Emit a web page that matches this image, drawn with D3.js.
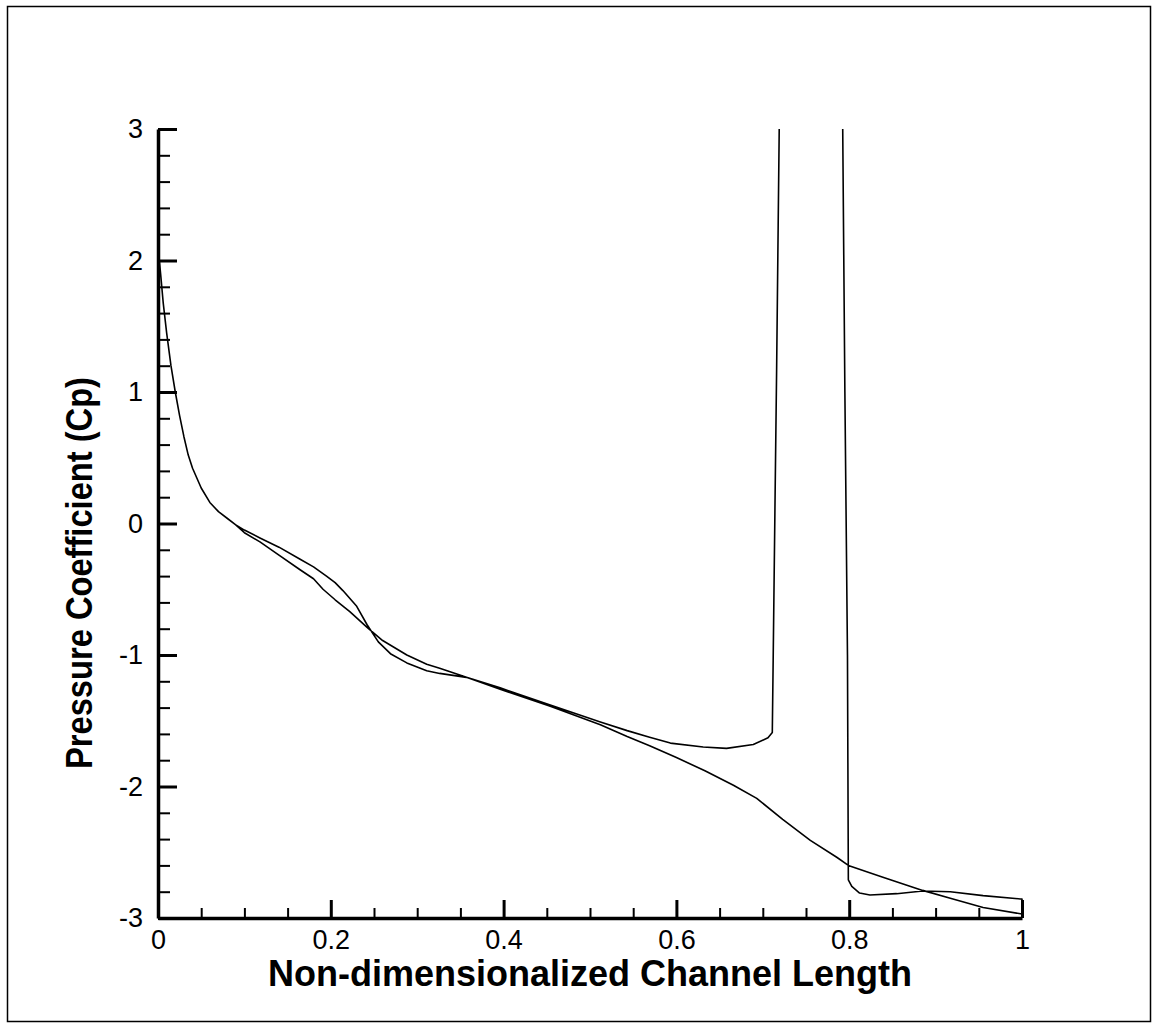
<!DOCTYPE html>
<html>
<head>
<meta charset="utf-8">
<script src="https://cdn.jsdelivr.net/npm/d3@7"></script>
<style>
  html, body { margin: 0; padding: 0; background: #fff; }
  svg { display: block; }
</style>
</head>
<body>
<svg id="chart" width="1157" height="1029"></svg>
<script>
// ---- data ----
const xTicksMajor = [0, 0.2, 0.4, 0.6, 0.8, 1];
const yTicksMajor = [-3, -2, -1, 0, 1, 2, 3];

// shared leading-edge portion (both branches start here)
const leadingEdge = [
  [0, 2.1], [0.003, 1.9], [0.006, 1.68], [0.01, 1.45], [0.015, 1.2], [0.02, 1.0],
  [0.025, 0.82], [0.03, 0.66], [0.035, 0.52], [0.04, 0.42], [0.05, 0.27],
  [0.06, 0.16], [0.07, 0.09], [0.08, 0.04], [0.09, -0.01]
];

// branch A: S-bend curve, ends with the spike at x ~ 0.72
const branchA = [
  [0.10, -0.05], [0.118, -0.11], [0.14, -0.18], [0.164, -0.27], [0.18, -0.33],
  [0.195, -0.40], [0.205, -0.45], [0.214, -0.51], [0.23, -0.63], [0.242, -0.77],
  [0.255, -0.90], [0.269, -0.99], [0.288, -1.06], [0.311, -1.12], [0.326, -1.14],
  [0.357, -1.17], [0.396, -1.25], [0.454, -1.38], [0.512, -1.51], [0.543, -1.575],
  [0.569, -1.625], [0.593, -1.67], [0.631, -1.70], [0.658, -1.71], [0.689, -1.68],
  [0.706, -1.63], [0.711, -1.59], [0.712, -1.04], [0.714, 0.08], [0.716, 1.17],
  [0.7178, 2.27], [0.719, 3.0]
];

// branch B: smooth curve running to x = 1
const branchB = [
  [0.10, -0.07], [0.118, -0.14], [0.14, -0.24], [0.164, -0.35], [0.18, -0.42],
  [0.191, -0.50], [0.205, -0.58], [0.222, -0.67], [0.242, -0.79], [0.26, -0.89],
  [0.288, -1.0], [0.311, -1.07], [0.326, -1.10], [0.357, -1.17], [0.396, -1.26],
  [0.454, -1.39], [0.512, -1.53], [0.543, -1.62], [0.569, -1.69], [0.6, -1.78],
  [0.633, -1.88], [0.666, -1.99], [0.693, -2.09], [0.723, -2.25], [0.755, -2.41],
  [0.786, -2.54], [0.799, -2.60], [0.839, -2.69], [0.885, -2.79], [0.917, -2.85],
  [0.955, -2.92], [1.0, -2.97]
];

// branch C: returns from x = 1 to the spike at x ~ 0.8
const branchC = [
  [1.0, -2.97], [1.0, -2.855], [0.998, -2.855], [0.955, -2.83], [0.917, -2.80],
  [0.885, -2.795], [0.855, -2.815], [0.824, -2.825], [0.812, -2.81], [0.803, -2.76],
  [0.799, -2.71], [0.798, -1.0], [0.795, 1.0], [0.7925, 3.0]
];

const xTitle = "Non-dimensionalized Channel Length";
const yTitle = "Pressure Coefficient (Cp)";

// ---- drawing ----
const svg = d3.select("#chart");

// outer frame
svg.append("rect")
  .attr("x", 7.5).attr("y", 6.5).attr("width", 1143).attr("height", 1015)
  .attr("fill", "none").attr("stroke", "#000").attr("stroke-width", 1.5);

const x = d3.scaleLinear().domain([0, 1]).range([158, 1022]);
const y = d3.scaleLinear().domain([-3, 3]).range([918, 129]);

const labelFont = "'Liberation Sans', Arial, sans-serif";
const fmtNum = d => (d < 0 ? "-" + Math.abs(d) : String(d));

// minor ticks
const xMinor = d3.range(0, 1.0001, 0.05).map(v => +v.toFixed(2)).filter(v => !xTicksMajor.includes(v));
const yMinor = d3.range(-3, 3.0001, 0.2).map(v => +v.toFixed(1)).filter(v => !yTicksMajor.includes(v));

svg.append("g").attr("transform", "translate(0,918)")
  .call(d3.axisBottom(x).tickValues(xMinor).tickSize(-10).tickFormat(""))
  .call(g => g.select(".domain").remove())
  .call(g => g.selectAll("line").attr("stroke-width", 2));

svg.append("g").attr("transform", "translate(158,0)")
  .call(d3.axisLeft(y).tickValues(yMinor).tickSize(-12).tickFormat(""))
  .call(g => g.select(".domain").remove())
  .call(g => g.selectAll("line").attr("stroke-width", 2));

// major axes
const xAxis = svg.append("g").attr("transform", "translate(0,918)")
  .call(d3.axisBottom(x).tickValues(xTicksMajor).tickSize(-18).tickSizeOuter(0)
    .tickPadding(12).tickFormat(fmtNum));
xAxis.select(".domain").attr("stroke-width", 3.5);
xAxis.selectAll("line").attr("stroke-width", 3);
xAxis.selectAll("text").attr("font-family", labelFont).attr("font-size", 27)
  .attr("font-weight", 300).attr("fill", "#000");

const yAxis = svg.append("g").attr("transform", "translate(158,0)")
  .call(d3.axisLeft(y).tickValues(yTicksMajor).tickSize(-19).tickSizeOuter(0)
    .tickPadding(15).tickFormat(fmtNum));
yAxis.select(".domain").attr("stroke-width", 3.5);
yAxis.selectAll("line").attr("stroke-width", 3);
yAxis.selectAll("text").attr("font-family", labelFont).attr("font-size", 27)
  .attr("font-weight", 300).attr("fill", "#000");

// curves
svg.append("clipPath").attr("id", "plotclip")
  .append("rect").attr("x", 150).attr("y", 128).attr("width", 880).attr("height", 800);

const line = d3.line().x(d => x(d[0])).y(d => y(d[1]));
// one closed-loop trace: spike A top -> branch A back to the leading edge ->
// branch B out to x = 1 -> branch C back to spike C top
const pathA = leadingEdge.concat(branchA).reverse();
const fullLoop = pathA.concat(leadingEdge.slice(1), branchB, branchC.slice(1));

svg.append("path")
  .attr("clip-path", "url(#plotclip)")
  .attr("d", line(fullLoop))
  .attr("fill", "none").attr("stroke", "#000").attr("stroke-width", 1.6)
  .attr("stroke-linejoin", "round");

// axis titles
svg.append("text")
  .attr("x", 590).attr("y", 986)
  .attr("text-anchor", "middle")
  .attr("font-family", labelFont).attr("font-weight", "bold").attr("font-size", 36)
  .attr("textLength", 644).attr("lengthAdjust", "spacingAndGlyphs")
  .text(xTitle);

svg.append("text")
  .attr("transform", "translate(92,573) rotate(-90)")
  .attr("text-anchor", "middle")
  .attr("font-family", labelFont).attr("font-weight", "bold").attr("font-size", 37)
  .attr("textLength", 392).attr("lengthAdjust", "spacingAndGlyphs")
  .text(yTitle);
</script>
</body>
</html>
